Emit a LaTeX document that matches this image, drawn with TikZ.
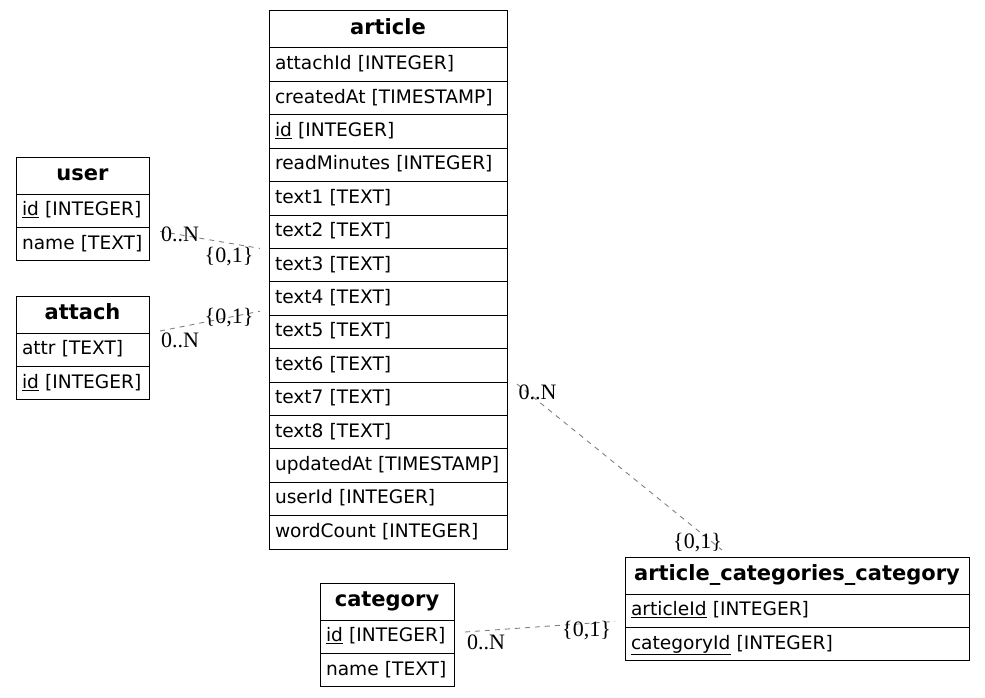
\documentclass[tikz,border=0pt]{standalone}
\usepackage{fontspec}
\setmainfont{DejaVu Sans}
\newfontfamily\cardfont{Liberation Serif}
\usetikzlibrary{positioning}

\begin{document}
\begin{tikzpicture}[
  x=1pt, y=-1pt,
  tblhead/.style={draw, line width=1pt, outer sep=0pt, minimum width=#1, minimum height=37pt, text height=12pt, text depth=2pt, font=\fontsize{21}{24}\selectfont\bfseries},
  tblfield/.style={draw, line width=1pt, outer sep=0pt, text width=#1, inner xsep=6pt, minimum height=33.4pt, text height=14pt, text depth=4pt, align=left, font=\fontsize{18.6}{22}\selectfont},
  rel/.style={draw=gray, dash pattern=on 5pt off 5pt, line width=0.9pt},
  card/.style={font=\cardfont\fontsize{22}{24}\selectfont, inner sep=1pt}
]
\useasboundingbox (0,0) rectangle (985,698);

% Tables
\node[tblhead=133pt, anchor=north west] (user) at (16,157) {user};
\node[tblfield=121pt, below=0pt of user] (user-1) {\underline{id} [INTEGER]};
\node[tblfield=121pt, below=0pt of user-1] (user-2) {name [TEXT]};

\node[tblhead=133pt, anchor=north west] (attach) at (16,296) {attach};
\node[tblfield=121pt, below=0pt of attach] (attach-1) {attr [TEXT]};
\node[tblfield=121pt, below=0pt of attach-1] (attach-2) {\underline{id} [INTEGER]};

\node[tblhead=238pt, anchor=north west] (article) at (269,11) {article};
\node[tblfield=226pt, below=0pt of article] (article-1) {attachId [INTEGER]};
\node[tblfield=226pt, below=0pt of article-1] (article-2) {createdAt [TIMESTAMP]};
\node[tblfield=226pt, below=0pt of article-2] (article-3) {\underline{id} [INTEGER]};
\node[tblfield=226pt, below=0pt of article-3] (article-4) {readMinutes [INTEGER]};
\node[tblfield=226pt, below=0pt of article-4] (article-5) {text1 [TEXT]};
\node[tblfield=226pt, below=0pt of article-5] (article-6) {text2 [TEXT]};
\node[tblfield=226pt, below=0pt of article-6] (article-7) {text3 [TEXT]};
\node[tblfield=226pt, below=0pt of article-7] (article-8) {text4 [TEXT]};
\node[tblfield=226pt, below=0pt of article-8] (article-9) {text5 [TEXT]};
\node[tblfield=226pt, below=0pt of article-9] (article-10) {text6 [TEXT]};
\node[tblfield=226pt, below=0pt of article-10] (article-11) {text7 [TEXT]};
\node[tblfield=226pt, below=0pt of article-11] (article-12) {text8 [TEXT]};
\node[tblfield=226pt, below=0pt of article-12] (article-13) {updatedAt [TIMESTAMP]};
\node[tblfield=226pt, below=0pt of article-13] (article-14) {userId [INTEGER]};
\node[tblfield=226pt, below=0pt of article-14] (article-15) {wordCount [INTEGER]};

\node[tblhead=134pt, anchor=north west] (category) at (320,583) {category};
\node[tblfield=122pt, below=0pt of category] (category-1) {\underline{id} [INTEGER]};
\node[tblfield=122pt, below=0pt of category-1] (category-2) {name [TEXT]};

\node[tblhead=344pt, anchor=north west] (acc) at (625,557) {article\_categories\_category};
\node[tblfield=332pt, below=0pt of acc] (acc-1) {\underline{articleId} [INTEGER]};
\node[tblfield=332pt, below=0pt of acc-1] (acc-2) {\underline{categoryId} [INTEGER]};

% Relations
\draw[rel] ([shift={(11,4)}]user-2.north east) -- node[card, pos=.2] {0..N} node[card, pos=.69, below=3pt] {\{0,1\}} ([shift={(-9,0)}]article-7.north west);
\draw[rel] ([shift={(11,-2)}]attach-1.north east) -- node[card, pos=.2, below=4pt] {0..N} node[card, pos=.69] {\{0,1\}} ([shift={(-9,-4)}]article-8.south west);
\draw[rel] ([shift={(10,2)}]article-11.north east) -- node[card, pos=.1, above=-1pt] {0..N} node[card, pos=.9, below=-2pt, xshift=-4pt] {\{0,1\}} ([shift={(97,-7)}]acc.north west);
\draw[rel] ([shift={(11,12)}]category-1.north east) -- node[card, pos=.14, below=2.5pt] {0..N} node[card, pos=.81, below=-3.5pt] {\{0,1\}} ([shift={(-10,-6)}]acc-1.south west);

\end{tikzpicture}
\end{document}
